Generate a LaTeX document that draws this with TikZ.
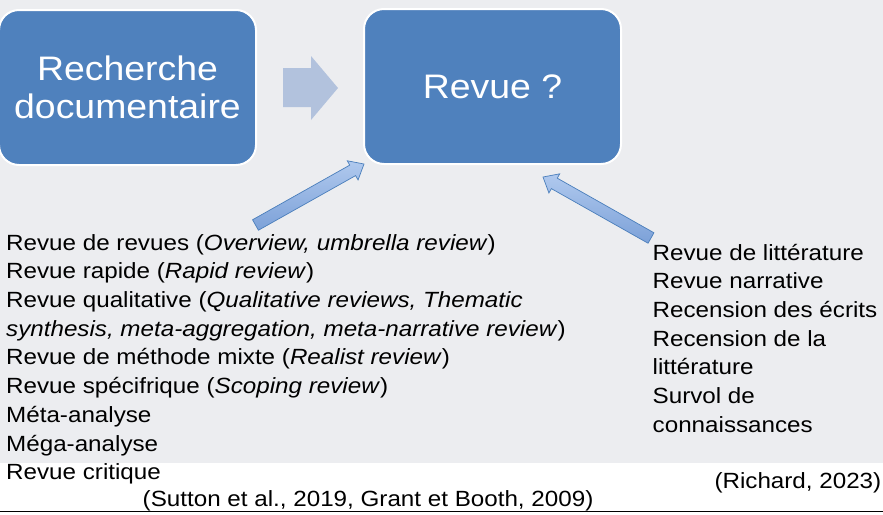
\documentclass[tikz,border=0pt]{standalone}
\usepackage{fontspec}
\setmainfont{Liberation Sans}[FakeStretch=1.10]
\usetikzlibrary{calc}
\definecolor{bggray}{RGB}{236,237,240}
\definecolor{boxblue}{RGB}{79,129,189}
\definecolor{midarrow}{RGB}{178,194,221}
\definecolor{arrlight}{RGB}{176,201,238}
\definecolor{arrdark}{RGB}{124,161,216}
\definecolor{arredge}{RGB}{74,126,187}
\tikzset{
  bigbox/.style={draw=white, line width=2pt, fill=boxblue, rounded corners=20pt,
    minimum width=257pt, minimum height=155pt, inner sep=0pt, text=white,
    align=center, font={\fontsize{34}{38}\selectfont}},
  listtext/.style={inner sep=0pt, align=left, text=black,
    font={\fontsize{22}{28.7}\selectfont}},
  citetext/.style={inner sep=0pt, text=black, font={\fontsize{22}{28.7}\selectfont}},
  blockarr/.style={top color=arrlight, bottom color=arrdark, draw=arredge, line width=0.7pt, line join=miter}
}
\newcommand\mybarrow[2]{%
  \coordinate (hb) at ($(#2)!13pt!(#1)$);
  \path[blockarr] ($(#1)!6pt!90:(#2)$) -- ($(hb)!6pt!90:(#2)$) -- ($(hb)!11pt!90:(#2)$)
    -- (#2) -- ($(hb)!11pt!-90:(#2)$) -- ($(hb)!6pt!-90:(#2)$) -- ($(#1)!6pt!-90:(#2)$) -- cycle;
}
\begin{document}
\begin{tikzpicture}[x=1pt,y=-1pt]
\useasboundingbox (0,0) rectangle (883,514);
\fill[bggray] (0,0) rectangle (883,463);
\fill[white] (0,463) rectangle (883,514);
\draw[line width=1.2pt, black] (0,511.5) -- (883,511.5);

\node[bigbox] (rech) at (127.5,87.5) {Recherche\\documentaire};
\node[bigbox] (revue) at (492.5,86.5) {Revue ?};

\path[fill=midarrow] (283,68) -- (311,68) -- (311,56) -- (338,88) -- (311,120) -- (311,107) -- (283,107) -- cycle;

\node[listtext, anchor=north west] (gauche) at (6,229.9) {\strut Revue de revues (\textit{Overview, umbrella review})\\
Revue rapide (\textit{Rapid review})\\
Revue qualitative (\textit{Qualitative reviews, Thematic}\\
\textit{synthesis, meta-aggregation, meta-narrative review})\\
Revue de méthode mixte (\textit{Realist review})\\
Revue spécifrique (\textit{Scoping review})\\
Méta-analyse\\
Méga-analyse\\
Revue critique};

\node[listtext, anchor=north west] (droite) at (652.5,239.9) {\strut Revue de littérature\\
Revue narrative\\
Recension des écrits\\
Recension de la\\
littérature\\
Survol de\\
connaissances};

\node[citetext, anchor=base west] (sutton) at (142.5,506) {(Sutton et al., 2019, Grant et Booth, 2009)};
\node[citetext, anchor=base east] (richard) at (881.5,488) {(Richard, 2023)};

\coordinate (t1) at (255.5,225);
\coordinate (h1) at (364,164);
\coordinate (t2) at (651,238);
\coordinate (h2) at (543,177);
\mybarrow{t1}{h1}
\mybarrow{t2}{h2}
\end{tikzpicture}
\end{document}
